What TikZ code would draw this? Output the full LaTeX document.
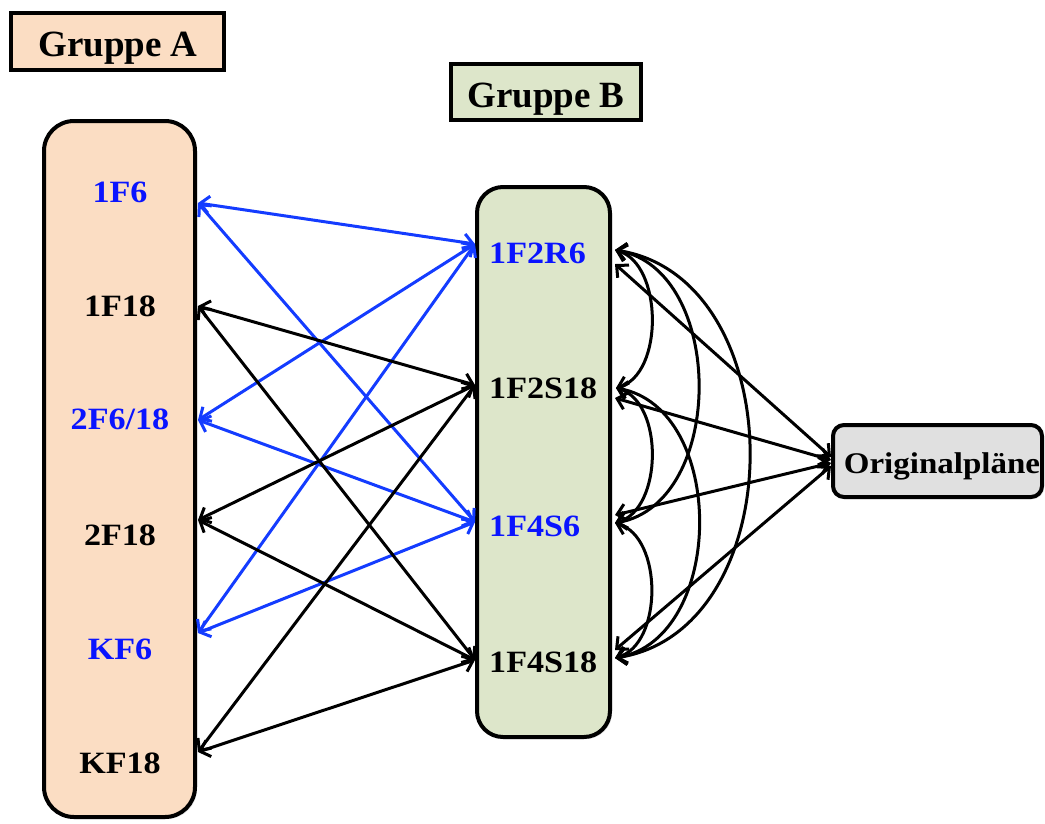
\documentclass[tikz,border=0pt]{standalone}
\usepackage{fontspec}
\setmainfont{Liberation Serif}
\newfontfamily\lblfont[FakeStretch=1.1]{Liberation Serif}
\usetikzlibrary{arrows.meta,shadows}
\definecolor{peach}{RGB}{251,221,195}
\definecolor{sage}{RGB}{221,230,202}
\definecolor{lgray}{RGB}{224,224,224}
\definecolor{lblue}{RGB}{10,20,255}
\definecolor{ablue}{RGB}{20,60,255}
\begin{document}
\begin{tikzpicture}[x=1pt,y=-1pt,
  shd/.style={drop shadow={opacity=0.25,shadow xshift=2pt,shadow yshift=-2pt}},
  grouplabel/.style={draw=black,line width=4pt,shd,inner sep=0pt},
  bigbox/.style={draw=black,line width=4pt,shd,inner sep=0pt},
  lbl/.style={font=\fontsize{31}{37}\selectfont\lblfont\bfseries,inner sep=0pt},
  glbl/.style={font=\fontsize{37}{44}\selectfont\bfseries,inner sep=0pt},
  olbl/.style={font=\fontsize{30}{36}\selectfont\lblfont\bfseries,inner sep=0pt},
  tipA/.tip={Straight Barb[length=9pt,width=17pt]},
  conn/.style={line width=3pt,tipA-tipA},
  bconn/.style={conn,draw=black},
  uconn/.style={conn,draw=ablue}]
\useasboundingbox (0,0) rectangle (1045,823);

% boxes
\node[grouplabel,fill=peach,minimum width=213pt,minimum height=57pt] (gA) at (117.5,41.5) {};
\node[grouplabel,fill=sage,minimum width=190pt,minimum height=56pt] (gB) at (546,92) {};
\node[bigbox,fill=peach,rounded corners=30pt,minimum width=151pt,minimum height=696pt] (boxA) at (119.5,469) {};
\node[bigbox,fill=sage,rounded corners=26pt,minimum width=133pt,minimum height=550pt] (boxB) at (543.5,462) {};
\node[bigbox,fill=lgray,rounded corners=11pt,minimum width=209pt,minimum height=72pt] (boxO) at (937.5,461) {};

% group texts
\node[glbl,anchor=base] (tgA) at (118,56) {Gruppe A};
\node[glbl,anchor=base] (tgB) at (546,107) {Gruppe B};
\node[olbl,anchor=base] (tO) at (942,473) {Originalpläne};

% A labels
\node[lbl,anchor=base,text=lblue] (A1) at (120,202) {1F6};
\node[lbl,anchor=base] (A2) at (120,316) {1F18};
\node[lbl,anchor=base,text=lblue] (A3) at (120,429) {2F6/18};
\node[lbl,anchor=base] (A4) at (120,545) {2F18};
\node[lbl,anchor=base,text=lblue] (A5) at (120,659) {KF6};
\node[lbl,anchor=base] (A6) at (120,773) {KF18};

% B labels
\node[lbl,anchor=base west,text=lblue] (B1) at (489,263) {1F2R6};
\node[lbl,anchor=base west] (B2) at (489,398) {1F2S18};
\node[lbl,anchor=base west,text=lblue] (B3) at (489,536) {1F4S6};
\node[lbl,anchor=base west] (B4) at (489,672) {1F4S18};

% attachment points
\coordinate (a1) at (198,203);
\coordinate (a2) at (198,306);
\coordinate (a3) at (198,420);
\coordinate (a4) at (198,520);
\coordinate (a5) at (198,633);
\coordinate (a6) at (198,752);
\coordinate (b1) at (475,244);
\coordinate (b2) at (475,385);
\coordinate (b3) at (475,522);
\coordinate (b4) at (475,660);
\coordinate (r1) at (615,250);
\coordinate (r1s) at (615,264);
\coordinate (r2) at (616,388);
\coordinate (r2s) at (615,398);
\coordinate (r3) at (615,523);
\coordinate (r3s) at (615,515);
\coordinate (r4) at (615,658);
\coordinate (r4s) at (615,650);
\coordinate (o1) at (831,457);
\coordinate (o2) at (831,460);
\coordinate (o3) at (831,463);
\coordinate (o4) at (831,466);

% A <-> B
\draw[uconn] (a1) -- (b1);
\draw[uconn] (a1) -- (b3);
\draw[uconn] (a3) -- (b1);
\draw[uconn] (a3) -- (b3);
\draw[uconn] (a5) -- (b1);
\draw[uconn] (a5) -- (b3);
\draw[bconn] (a2) -- (b2);
\draw[bconn] (a2) -- (b4);
\draw[bconn] (a4) -- (b2);
\draw[bconn] (a4) -- (b4);
\draw[bconn] (a6) -- (b2);
\draw[bconn] (a6) -- (b4);

% B <-> Originalplaene
\draw[bconn] (r1s) -- (o1);
\draw[bconn] (r2s) -- (o2);
\draw[bconn] (r3s) -- (o3);
\draw[bconn] (r4s) -- (o4);

% arcs between B items
\draw[bconn] (r1) .. controls +(48,14) and +(48,-14) .. (r2);
\draw[bconn] (r2) .. controls +(48,14) and +(48,-14) .. (r3);
\draw[bconn] (r3) .. controls +(48,14) and +(48,-14) .. (r4);
\draw[bconn] (r1) .. controls +(111,20) and +(111,-20) .. (r3);
\draw[bconn] (r2) .. controls +(111,20) and +(111,-20) .. (r4);
\draw[bconn] (r1) .. controls +(179,28) and +(179,-28) .. (r4);
\end{tikzpicture}
\end{document}
